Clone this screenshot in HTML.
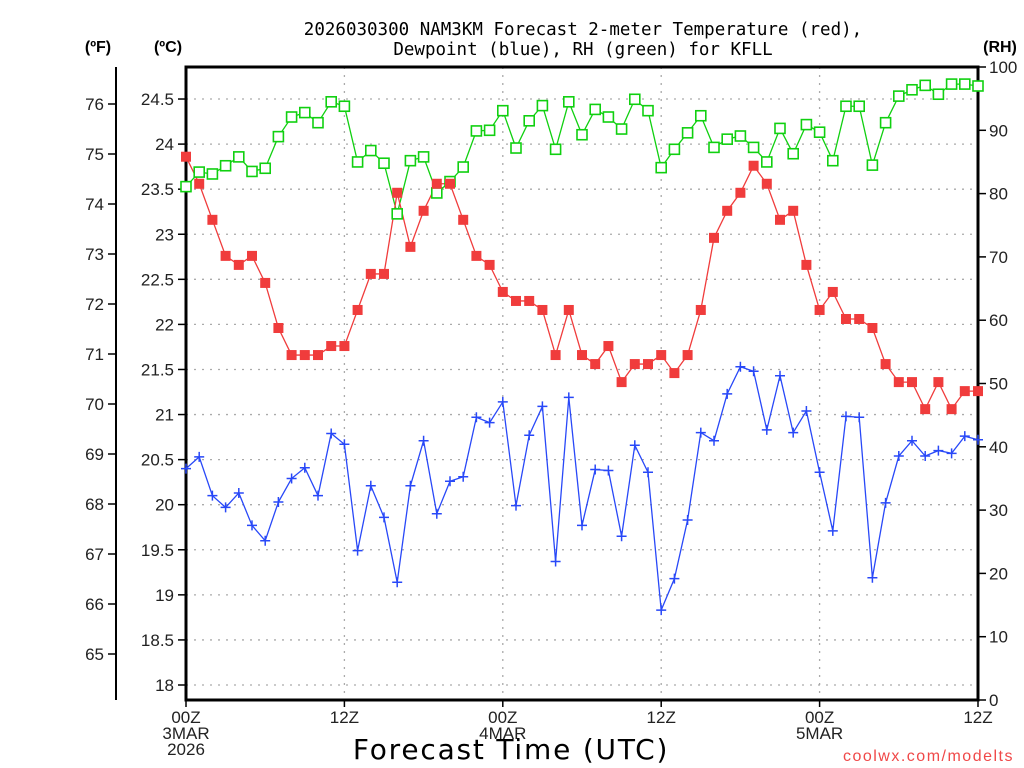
<!DOCTYPE html>
<html><head><meta charset="utf-8"><style>
html,body{margin:0;padding:0;background:#fff;}
svg{display:block;font-family:"Liberation Sans","DejaVu Sans",sans-serif;}
</style></head><body>
<svg id="chart" width="1024" height="768" viewBox="0 0 1024 768" xmlns="http://www.w3.org/2000/svg">
<rect width="1024" height="768" fill="#fff"/>
<text x="583" y="35" text-anchor="middle" font-size="17.5" fill="#000" font-family="DejaVu Sans Mono, Liberation Mono, monospace">2026030300 NAM3KM Forecast 2-meter Temperature (red),</text>
<text x="583" y="55" text-anchor="middle" font-size="17.5" fill="#000" font-family="DejaVu Sans Mono, Liberation Mono, monospace">Dewpoint (blue), RH (green) for KFLL</text>
<text x="98" y="52" text-anchor="middle" font-size="16" font-weight="bold">(ºF)</text>
<text x="168" y="52" text-anchor="middle" font-size="16" font-weight="bold">(ºC)</text>
<text x="1000" y="52" text-anchor="middle" font-size="16" font-weight="bold">(RH)</text>
<g id="grid"></g>
<g id="axes"></g>
<g id="series"></g>
<text x="511" y="759" text-anchor="middle" font-size="28" fill="#000" letter-spacing="1.8" font-family="DejaVu Sans, sans-serif">Forecast Time (UTC)</text>
<text x="1014" y="761" text-anchor="end" font-size="16" fill="#f04848" letter-spacing="1.5">coolwx.com/modelts</text>
</svg>
<script>
const hours = Array.from({length:61},(_,i)=>i);
const tempC = [23.86,23.56,23.16,22.76,22.66,22.76,22.46,21.96,21.66,21.66,21.66,21.76,21.76,22.16,22.56,22.56,23.46,22.86,23.26,23.56,23.56,23.16,22.76,22.66,22.36,22.26,22.26,22.16,21.66,22.16,21.66,21.56,21.76,21.36,21.56,21.56,21.66,21.46,21.66,22.16,22.96,23.26,23.46,23.76,23.56,23.16,23.26,22.66,22.16,22.36,22.06,22.06,21.96,21.56,21.36,21.36,21.06,21.36,21.06,21.26,21.26];
const dewC = [20.40,20.53,20.10,19.97,20.13,19.77,19.60,20.03,20.29,20.41,20.10,20.79,20.67,19.49,20.21,19.86,19.14,20.21,20.71,19.90,20.26,20.31,20.97,20.91,21.14,19.99,20.77,21.09,19.37,21.19,19.77,20.39,20.38,19.65,20.66,20.36,18.83,19.18,19.83,20.80,20.71,21.23,21.53,21.48,20.83,21.43,20.80,21.04,20.36,19.71,20.98,20.97,19.19,20.02,20.54,20.71,20.54,20.60,20.57,20.76,20.72];
const rh = [81.1,83.4,83.1,84.4,85.8,83.5,84.0,89.0,92.1,92.8,91.2,94.5,93.8,85.0,86.8,84.8,76.8,85.2,85.8,80.1,81.9,84.2,89.9,90.0,93.1,87.2,91.5,93.9,87.0,94.5,89.3,93.3,92.1,90.2,94.9,93.1,84.1,87.0,89.6,92.3,87.3,88.6,89.1,87.3,85.0,90.3,86.3,90.9,89.7,85.2,93.8,93.8,84.5,91.2,95.4,96.4,97.1,95.7,97.3,97.3,97.0];
const cTicks = [18,18.5,19,19.5,20,20.5,21,21.5,22,22.5,23,23.5,24,24.5];
const fTicks = [65,66,67,68,69,70,71,72,73,74,75,76];
const rhTicks = [0,10,20,30,40,50,60,70,80,90,100];
const xTickHours = [0,12,24,36,48,60];
const xTickLabels = [["00Z","3MAR","2026"],["12Z"],["00Z","4MAR"],["12Z"],["00Z","5MAR"],["12Z"]];

const X0=186,X1=978,Y0=67,Y1=700;
const xs = h => X0 + (h/60)*(X1-X0);
const yC = c => 685 - (c-18)*90.15;
const yF = f => 654 - (f-65)*50;
const yR = r => Y1 - r*(Y1-Y0)/100;
const NS="http://www.w3.org/2000/svg";
function mk(tag, attrs, parent){const e=document.createElementNS(NS,tag);for(const k in attrs)e.setAttribute(k,attrs[k]);parent.appendChild(e);return e;}
const grid=document.getElementById('grid'), axes=document.getElementById('axes'), ser=document.getElementById('series');

cTicks.forEach(c=>{
  const y=yC(c);
  const g=mk('line',{x1:X0,x2:X1,y1:y,y2:y,stroke:'#aaa','stroke-width':1.3,'stroke-dasharray':'2,6'},grid);
  
  
  const t=mk('line',{x1:X0-8,x2:X0,y1:y,y2:y,stroke:'#000','stroke-width':1.5},axes);
  
  
  const l=mk('text',{x:X0-12,y:y+6,'text-anchor':'end','font-size':17,fill:'#222'},axes);
  l.textContent=String(c);
  
  
});
fTicks.forEach(f=>{
  const y=yF(f);
  const t=mk('line',{x1:108,x2:116,y1:y,y2:y,stroke:'#000','stroke-width':1.5},axes);
  
  
  const l=mk('text',{x:104,y:y+6,'text-anchor':'end','font-size':17,fill:'#222'},axes);
  l.textContent=String(f);
  
  
});
rhTicks.forEach(r=>{
  const y=yR(r);
  const t=mk('line',{x1:X1,x2:X1+8,y1:y,y2:y,stroke:'#000','stroke-width':1.5},axes);
  
  
  const l=mk('text',{x:X1+11,y:y+6,'text-anchor':'start','font-size':17,fill:'#222'},axes);
  l.textContent=String(r);
  
  
});
xTickHours.forEach((h,i)=>{
  const x=xs(h);
  if(h>0&&h<60){
    const g=mk('line',{x1:x,x2:x,y1:Y0,y2:Y1,stroke:'#aaa','stroke-width':1.3,'stroke-dasharray':'2,6'},grid);
    
    
  }
  const t=mk('line',{x1:x,x2:x,y1:Y1,y2:Y1+7,stroke:'#000','stroke-width':1.5},axes);
  
  
  xTickLabels[i].forEach((s,j)=>{
    const l=mk('text',{x:x,y:723+j*16,'text-anchor':'middle','font-size':17,fill:'#222'},axes);
    l.textContent=s;
    
    
  });
});
const fr=mk('rect',{x:X0,y:Y0,width:X1-X0,height:Y1-Y0,fill:'none',stroke:'#000','stroke-width':3},axes);


const fa=mk('line',{x1:116,x2:116,y1:Y0,y2:Y1,stroke:'#000','stroke-width':2},axes);



function line(vals,yf,color,name){
  const p=mk('polyline',{points:vals.map((v,i)=>xs(hours[i])+','+yf(v)).join(' '),fill:'none',stroke:color,'stroke-width':1.3},ser);
  
  
}
line(rh,yR,'#10d010','rh-line');
line(tempC,yC,'#f03c3c','temperature-line');
line(dewC,yC,'#2848f8','dewpoint-line');
rh.forEach((v,i)=>{
  const m=mk('rect',{x:xs(hours[i])-5,y:yR(v)-5,width:10,height:10,fill:'#fff',stroke:'#10d010','stroke-width':1.6},ser);
  
  
});
tempC.forEach((v,i)=>{
  const m=mk('rect',{x:xs(hours[i])-5,y:yC(v)-5,width:10,height:10,fill:'#f03c3c'},ser);
  
  
});
dewC.forEach((v,i)=>{
  const x=xs(hours[i]),y=yC(v);
  const m=mk('path',{d:`M${x-5},${y}H${x+5}M${x},${y-5}V${y+5}`,stroke:'#2848f8','stroke-width':1.5,fill:'none'},ser);
  
  
});
</script>
</body></html>
